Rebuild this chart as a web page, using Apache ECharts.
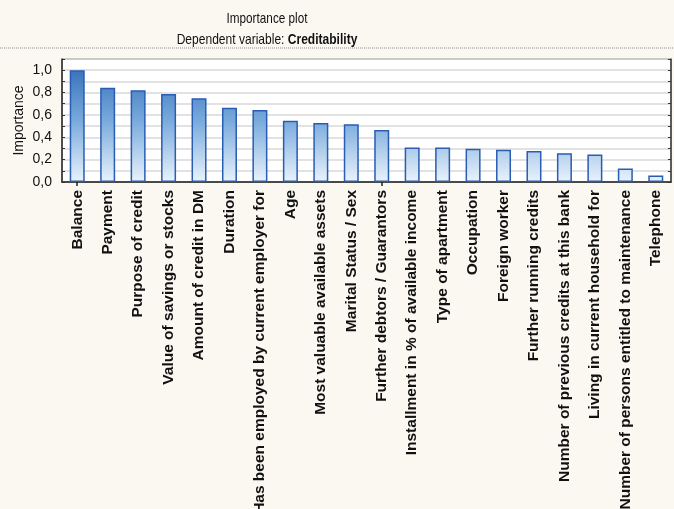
<!DOCTYPE html>
<html>
<head>
<meta charset="utf-8">
<script src="https://cdn.jsdelivr.net/npm/echarts@6/dist/echarts.min.js"></script>
<style>
  html, body { margin: 0; padding: 0; background: #faf8f0; }
  #chart { width: 674px; height: 509px; }
</style>
</head>
<body>
<div id="chart"></div>
<script>
// Predictor importance for the dependent variable "Creditability"
const categories = [
  'Balance',
  'Payment',
  'Purpose of credit',
  'Value of savings or stocks',
  'Amount of credit in DM',
  'Duration',
  'Has been employed by current employer for',
  'Age',
  'Most valuable available assets',
  'Marital Status / Sex',
  'Further debtors / Guarantors',
  'Installment in % of available income',
  'Type of apartment',
  'Occupation',
  'Foreign worker',
  'Further running credits',
  'Number of previous credits at this bank',
  'Living in current household for',
  'Number of persons entitled to maintenance',
  'Telephone'
];

const importance = [
  1.00, 0.842, 0.820, 0.788, 0.748, 0.664, 0.645, 0.548, 0.527, 0.517,
  0.465, 0.308, 0.308, 0.298, 0.289, 0.278, 0.257, 0.247, 0.120, 0.058
];

const yMin = 0;
const yMax = 1.1;
const yStep = 0.1;

const gridBox = { left: 62, right: 3, top: 59, bottom: 327 };
const FONT = 'Liberation Sans, Arial, sans-serif';

const chart = echarts.init(document.getElementById('chart'), null, { renderer: 'canvas' });

// Gradient spans the plot height, so taller bars reach the darker blue
const barFill = new echarts.graphic.LinearGradient(0, gridBox.top, 0, 509 - gridBox.bottom, [
  { offset: 0, color: '#2c68b6' },
  { offset: 0.5, color: '#78aadc' },
  { offset: 1, color: '#eaf3fc' }
], true);

const tickLabel = v => {
  const k = Math.round(v * 10);
  return k % 2 === 0 ? (k / 10).toFixed(1).replace('.', ',') : '';
};

chart.setOption({
  backgroundColor: '#faf8f0',
  animation: false,
  graphic: [
    // Two-line heading, set in a condensed face
    {
      type: 'text', x: 267, y: 19, scaleX: 0.84, scaleY: 1.08, silent: true,
      style: {
        text: 'Importance plot', align: 'center', verticalAlign: 'middle',
        font: '14px ' + FONT, fill: '#111'
      }
    },
    {
      type: 'text', x: 267, y: 40, scaleX: 0.86, scaleY: 1.08, silent: true,
      style: {
        text: '{a|Dependent variable: }{b|Creditability}', align: 'center', verticalAlign: 'middle',
        rich: {
          a: { fontFamily: FONT, fontSize: 14, fontWeight: 'normal', fill: '#111' },
          b: { fontFamily: FONT, fontSize: 14, fontWeight: 'bold', fill: '#111' }
        }
      }
    },
    {
      type: 'line',
      shape: { x1: 0, y1: 48, x2: 674, y2: 48 },
      style: { stroke: '#8a8a8a', lineWidth: 1, lineDash: [1, 1] },
      silent: true
    }
  ],
  grid: {
    left: gridBox.left, right: gridBox.right, top: gridBox.top, bottom: gridBox.bottom,
    outerBoundsMode: 'none',
    show: true, backgroundColor: '#ffffff', borderColor: '#444', borderWidth: 1
  },
  xAxis: [
    {
      type: 'category',
      data: categories,
      position: 'bottom',
      axisLine: { show: true, lineStyle: { color: '#333', width: 1.5 } },
      axisTick: { show: true, inside: true, alignWithLabel: true, length: 4, lineStyle: { color: '#222', width: 1.5 } },
      axisLabel: {
        rotate: 90, interval: 0, margin: 8,
        fontFamily: FONT, fontSize: 15.5, fontWeight: 'bold', color: '#111'
      }
    },
    {
      type: 'category',
      data: categories,
      position: 'top',
      axisLine: { show: true, lineStyle: { color: '#444', width: 1.5 } },
      axisTick: { show: true, inside: true, alignWithLabel: true, length: 4, lineStyle: { color: '#222', width: 1.5 } },
      axisLabel: { show: false }
    }
  ],
  yAxis: [
    {
      type: 'value',
      min: yMin, max: yMax, interval: yStep,
      position: 'left',
      name: 'Importance',
      nameLocation: 'middle',
      nameGap: 36,
      nameMoveOverlap: false,
      nameTextStyle: { fontFamily: FONT, fontSize: 14, color: '#111' },
      axisLine: { show: true, lineStyle: { color: '#333', width: 1.5 } },
      axisTick: { show: true, inside: true, length: 3, lineStyle: { color: '#333' } },
      axisLabel: { formatter: tickLabel, margin: 10, fontFamily: FONT, fontSize: 14, color: '#111' },
      splitLine: { show: true, lineStyle: { color: '#d9d9d9', width: 1.5 } }
    },
    {
      type: 'value',
      min: yMin, max: yMax, interval: yStep,
      position: 'right',
      axisLine: { show: true, lineStyle: { color: '#444', width: 1.5 } },
      axisTick: { show: true, inside: true, length: 3, lineStyle: { color: '#333' } },
      axisLabel: { show: false },
      splitLine: { show: false }
    }
  ],
  series: [
    {
      type: 'bar',
      data: importance,
      xAxisIndex: 0,
      yAxisIndex: 0,
      barWidth: 15,
      itemStyle: { color: barFill, borderColor: '#2a5cb4', borderWidth: 1.5 },
      z: 1
    }
  ]
});
</script>
</body>
</html>
